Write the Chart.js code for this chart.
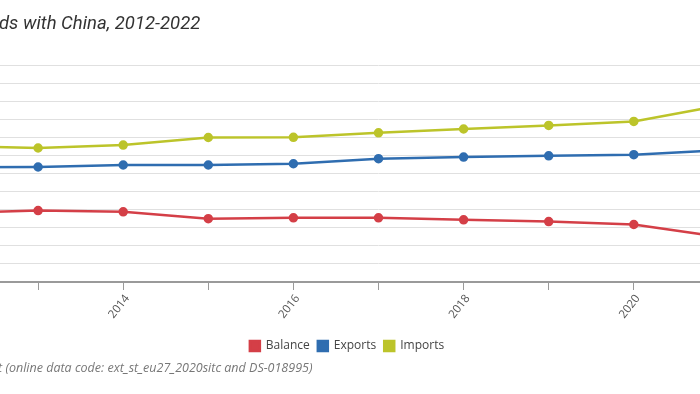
<!DOCTYPE html>
<html><head><meta charset="utf-8">
<script src="https://cdn.jsdelivr.net/npm/chart.js@4.4.1/dist/chart.umd.min.js"></script>
<style>
html,body{margin:0;padding:0;width:700px;height:394px;overflow:hidden;background:#fff;}
#wrap{position:absolute;left:-116px;top:0;width:926px;height:394px;}
#title{position:absolute;top:14px;left:0;white-space:nowrap;font:italic 400 18.5px Roboto;line-height:18px;color:#333;}
#source{position:absolute;top:362px;left:0;white-space:nowrap;font:italic 400 12.5px "Open Sans";line-height:12px;color:#777;}
</style></head>
<body>
<div id="wrap"><canvas id="c" width="926" height="394"></canvas></div>
<div id="title">EU trade in goods with China, 2012-2022</div>
<div id="source">Source: Eurostat (online data code: ext_st_eu27_2020sitc and DS-018995)</div>
<script>
// ---- data (EUR billion) ----
const years = ['2012','2013','2014','2015','2016','2017','2018','2019','2020','2021','2022'];
const balance = [-118, -105, -112, -150, -145, -145, -156, -166, -182, -250, -396];
const exportsV = [134, 136, 147, 147, 154, 182, 191, 198, 204, 228, 230];
const importsV = [252, 241, 257, 299, 300, 325, 346, 366, 388, 475, 626];
const yMin = -500, yMax = 700, yStep = 100;
const seriesNames = ['Balance', 'Exports', 'Imports'];

const RED = '#d43f47', BLUE = '#2f6db0', LIME = '#bcc42a';

// position clipped text so that the visible part starts at the page's left edge
function placeClipped(id, font, prefix, startX) {
  const m = document.createElement('canvas').getContext('2d');
  m.font = font;
  const w = m.measureText(prefix).width;
  document.getElementById(id).style.left = (startX - w) + 'px';
}
placeClipped('title', 'italic 400 18.5px Roboto', 'EU trade in goo', -1);
placeClipped('source', 'italic 400 12.5px "Open Sans"', 'Source: Eurosta', -2);

function ds(label, data, color) {
  return {label, data, borderColor: color, backgroundColor: color,
    pointBackgroundColor: color, pointBorderColor: color,
    borderWidth: 2.5, pointRadius: 3.5, pointHoverRadius: 3.5, tension: 0};
}

new Chart(document.getElementById('c'), {
  type: 'line',
  data: {
    labels: years,
    datasets: [ds(seriesNames[0], balance, RED), ds(seriesNames[1], exportsV, BLUE), ds(seriesNames[2], importsV, LIME)]
  },
  options: {
    responsive: false, animation: false, devicePixelRatio: 1,
    layout: {padding: {top: 65, bottom: 32, left: 0, right: 0}},
    plugins: {
      legend: {position: 'bottom', labels: {boxWidth: 10, boxHeight: 10, padding: 8,
        font: {family: 'Open Sans', size: 12}, color: '#444'}},
      tooltip: {enabled: false}
    },
    scales: {
      x: {
        grid: {drawOnChartArea: false, drawTicks: true, tickLength: 8, tickColor: '#9a9a9a', tickWidth: 1},
        border: {color: '#9a9a9a', width: 2},
        ticks: {autoSkip: false, maxRotation: 52, minRotation: 52, padding: 2, labelOffset: 4,
          font: {family: 'Open Sans', size: 11.5}, color: '#555',
          callback: function(v, i) { const y = years[i]; return (+y) % 2 === 0 ? y : ''; }},
        afterFit: s => { s.height = 50; s.paddingLeft = 0; s.paddingRight = 0; }
      },
      y: {
        min: yMin, max: yMax,
        ticks: {stepSize: yStep, font: {family: 'Open Sans', size: 11}, color: '#666'},
        grid: {color: '#e0e0e0', drawTicks: false},
        border: {display: false},
        afterFit: s => { s.width = 69; s.paddingTop = 0; s.paddingBottom = 0; }
      }
    }
  }
});
</script>
</body></html>
